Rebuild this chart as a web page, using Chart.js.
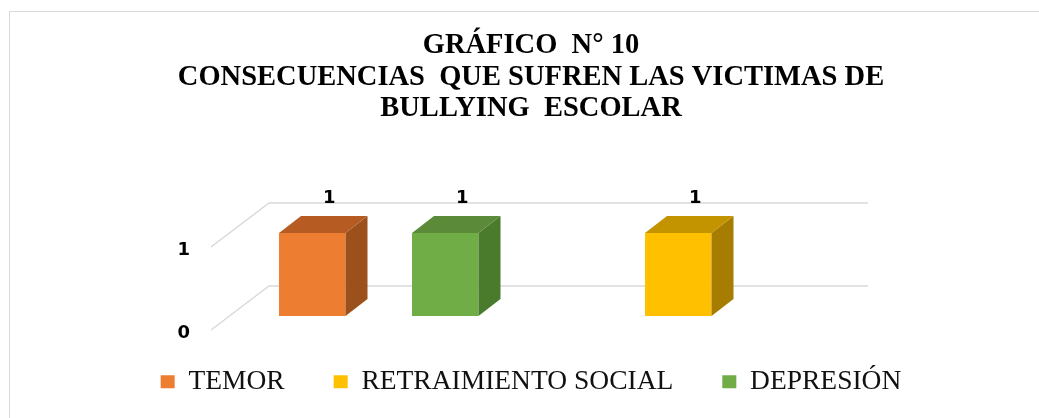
<!DOCTYPE html>
<html>
<head>
<meta charset="utf-8">
<script src="https://cdn.jsdelivr.net/npm/chart.js@4"></script>
<style>
  html, body { margin: 0; padding: 0; background: #fff; overflow: hidden; }
  #marco { position: absolute; left: 9px; top: 11px; width: 1042px; height: 420px; border: 1px solid #d9d9d9; }
</style>
</head>
<body>
<div id="marco"><canvas id="grafico" width="1042" height="420"></canvas></div>
<script>
// datos del gráfico
const categorias = ['Grupo 1', 'Grupo 2'];
const temor = [1, null];
const retraimiento = [null, 1];
const depresion = [1, null];
const ticksY = [0, 1];

const colores = {
  temor: { frente: '#ED7D31', lado: '#9C501C', techo: '#B65C22' },
  retraimiento: { frente: '#FFC000', lado: '#A67D00', techo: '#C49400' },
  depresion: { frente: '#70AD47', lado: '#4A7A2C', techo: '#5B8A38' }
};

const PROF_X = 22, PROF_Y = 17; // profundidad de cada barra
const FONDO_X = 40, FONDO_Y = 30; // pared del fondo
const PISO_X = 18, PISO_Y = 14; // borde frontal del piso

// líneas de la grilla en perspectiva
const grilla3d = {
  id: 'grilla3d',
  beforeDatasetsDraw(chart) {
    const { ctx, chartArea } = chart;
    const y = chart.scales.y;
    ctx.save();
    ctx.strokeStyle = '#d9d9d9';
    ctx.lineWidth = 1.5;
    y.ticks.forEach(t => {
      const py = y.getPixelForValue(t.value);
      ctx.beginPath();
      ctx.moveTo(chartArea.left - PISO_X, py + PISO_Y);
      ctx.lineTo(chartArea.left + FONDO_X, py - FONDO_Y);
      ctx.lineTo(chartArea.right + FONDO_X, py - FONDO_Y);
      ctx.stroke();
    });
    ctx.restore();
  }
};

// caras laterales y superiores + etiquetas
const barras3d = {
  id: 'barras3d',
  afterDatasetsDraw(chart) {
    const ctx = chart.ctx;
    ctx.save();
    chart.data.datasets.forEach((ds, i) => {
      const meta = chart.getDatasetMeta(i);
      meta.data.forEach((bar, j) => {
        if (ds.data[j] == null) return;
        const { x, y, base, width } = bar.getProps(['x', 'y', 'base', 'width'], true);
        const l = x - width / 2, r = x + width / 2;
        // lado
        ctx.fillStyle = ds.lado;
        ctx.beginPath();
        ctx.moveTo(r, y);
        ctx.lineTo(r + PROF_X, y - PROF_Y);
        ctx.lineTo(r + PROF_X, base - PROF_Y);
        ctx.lineTo(r, base);
        ctx.closePath();
        ctx.fill();
        // techo
        ctx.fillStyle = ds.techo;
        ctx.beginPath();
        ctx.moveTo(l, y);
        ctx.lineTo(l + PROF_X, y - PROF_Y);
        ctx.lineTo(r + PROF_X, y - PROF_Y);
        ctx.lineTo(r, y);
        ctx.closePath();
        ctx.fill();
        // etiqueta
        ctx.fillStyle = '#000';
        ctx.font = 'bold 18px "DejaVu Sans"';
        ctx.textAlign = 'center';
        ctx.textBaseline = 'middle';
        ctx.fillText(ds.data[j], x + 17, y - 35);
      });
    });
    ctx.restore();
  }
};

new Chart(document.getElementById('grafico'), {
  type: 'bar',
  data: {
    labels: categorias,
    datasets: [
      { label: 'TEMOR', data: temor, backgroundColor: colores.temor.frente, lado: colores.temor.lado, techo: colores.temor.techo },
      { label: 'RETRAIMIENTO SOCIAL', data: retraimiento, backgroundColor: colores.retraimiento.frente, lado: colores.retraimiento.lado, techo: colores.retraimiento.techo },
      { label: 'DEPRESIÓN', data: depresion, backgroundColor: colores.depresion.frente, lado: colores.depresion.lado, techo: colores.depresion.techo }
    ]
  },
  options: {
    responsive: false,
    animation: false,
    layout: { padding: { left: 20, right: 20, top: 0, bottom: 26.5 } },
    datasets: { bar: { categoryPercentage: 0.666, barPercentage: 1.0, borderWidth: 0 } },
    scales: {
      x: {
        afterFit(scale) { scale.height = 3; },
        grid: { display: false },
        border: { display: false },
        ticks: { display: false }
      },
      y: {
        min: 0, max: 1,
        afterBuildTicks(scale) { scale.ticks = ticksY.map(v => ({ value: v })); },
        afterFit(scale) { scale.width = 199; },
        grid: { display: false, drawTicks: false },
        border: { display: false },
        ticks: {
          padding: 39,
          labelOffset: 17,
          color: '#000',
          font: { family: 'DejaVu Sans', size: 18, weight: 'bold' }
        }
      },
      y2: {
        position: 'right',
        afterFit(scale) { scale.width = 204; },
        grid: { display: false },
        border: { display: false },
        ticks: { display: false }
      }
    },
    plugins: {
      title: {
        display: true,
        text: ['GRÁFICO  N° 10', 'CONSECUENCIAS  QUE SUFREN LAS VICTIMAS DE', 'BULLYING  ESCOLAR'],
        color: '#000',
        font: { family: 'Liberation Serif', size: 28.5, weight: 'bold', lineHeight: 1.105 },
        padding: { top: 18, bottom: 108.5 }
      },
      legend: {
        position: 'bottom',
        labels: {
          color: '#111',
          boxWidth: 14,
          boxHeight: 13,
          padding: 49,
          font: { family: 'Liberation Serif', size: 27.5 }
        }
      },
      tooltip: { enabled: false }
    }
  },
  plugins: [grilla3d, barras3d]
});
</script>
</body>
</html>
